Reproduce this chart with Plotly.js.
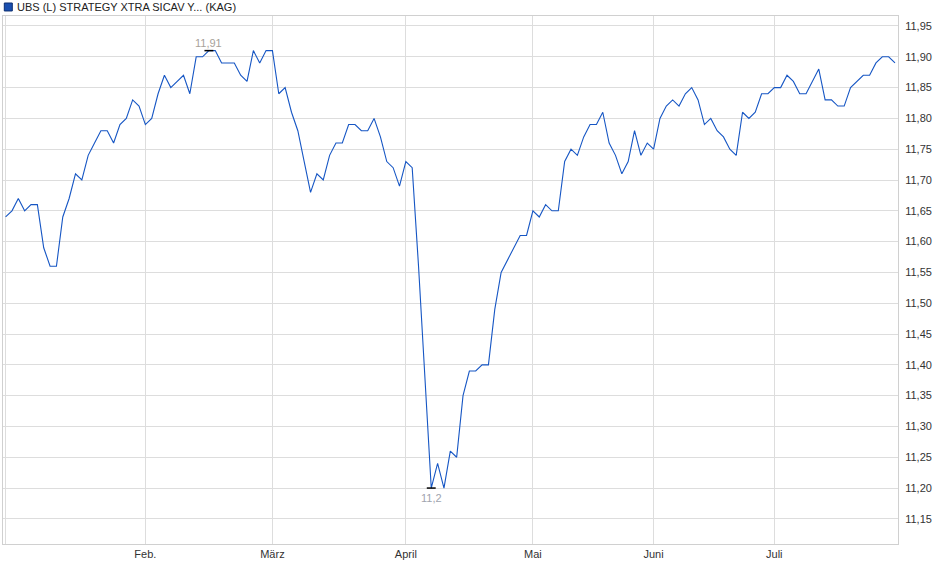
<!DOCTYPE html>
<html>
<head>
<meta charset="utf-8">
<script src="https://cdn.plot.ly/plotly-3.0.1.min.js"></script>
<style>
  html, body { margin: 0; padding: 0; background: #ffffff; }
  #chart { width: 940px; height: 579px; }
</style>
</head>
<body>
<div id="chart"></div>
<script>
// Month labels (January gridline carries no label in the reference)
const monthLabels = ['', 'Feb.', 'März', 'April', 'Mai', 'Juni', 'Juli'];

// Daily prices per month (trading days)
const janValues = [11.64, 11.65, 11.67, 11.65, 11.66, 11.66, 11.59, 11.56, 11.56, 11.64, 11.67,
                   11.71, 11.70, 11.74, 11.76, 11.78, 11.78, 11.76, 11.79, 11.80, 11.83, 11.82];
const febValues = [11.79, 11.80, 11.84, 11.87, 11.85, 11.86, 11.87, 11.84, 11.90, 11.90,
                   11.91, 11.91, 11.89, 11.89, 11.89, 11.87, 11.86, 11.91, 11.89, 11.91];
const marValues = [11.91, 11.84, 11.85, 11.81, 11.78, 11.73, 11.68, 11.71, 11.70, 11.74, 11.76,
                   11.76, 11.79, 11.79, 11.78, 11.78, 11.80, 11.77, 11.73, 11.72, 11.69];
const aprValues = [11.73, 11.72, 11.56, 11.38, 11.20, 11.24, 11.20, 11.26, 11.25, 11.35,
                   11.39, 11.39, 11.40, 11.40, 11.49, 11.55, 11.57, 11.59, 11.61, 11.61];
const mayValues = [11.65, 11.64, 11.66, 11.65, 11.65, 11.73, 11.75, 11.74, 11.77, 11.79,
                   11.79, 11.81, 11.76, 11.74, 11.71, 11.73, 11.78, 11.74, 11.76];
const junValues = [11.75, 11.80, 11.82, 11.83, 11.82, 11.84, 11.85, 11.83, 11.79, 11.80,
                   11.78, 11.77, 11.75, 11.74, 11.81, 11.80, 11.81, 11.84, 11.84];
const julValues = [11.85, 11.85, 11.87, 11.86, 11.84, 11.84, 11.86, 11.88, 11.83, 11.83,
                   11.82, 11.82, 11.85, 11.86, 11.87, 11.87, 11.89, 11.90, 11.90, 11.89];

// Y axis tick values
const yTickValues = [11.15, 11.20, 11.25, 11.30, 11.35, 11.40, 11.45, 11.50, 11.55,
                     11.60, 11.65, 11.70, 11.75, 11.80, 11.85, 11.90, 11.95];

const seriesName = 'UBS (L) STRATEGY XTRA SICAV Y... (KAG)';

// ---- build from the arrays ----
const monthArrays = [janValues, febValues, marValues, aprValues, mayValues, junValues, julValues];
const values = [].concat(...monthArrays);
const xs = values.map((v, i) => i);
const monthStarts = [];
let acc = 0;
monthArrays.forEach(a => { monthStarts.push(acc); acc += a.length; });

const maxVal = Math.max(...values);
const minVal = Math.min(...values);
const maxIdx = values.indexOf(maxVal);
const minIdx = values.indexOf(minVal);
const fmt = v => String(v).replace('.', ',');

const lineColor = '#1656c4';
const font = 'Liberation Sans, Arial, sans-serif';

const trace = {
  x: xs,
  y: values,
  type: 'scatter',
  mode: 'lines',
  line: { color: lineColor, width: 1.1 },
  hoverinfo: 'skip',
  showlegend: false
};

const layout = {
  width: 940,
  height: 579,
  margin: { l: 3, r: 42, t: 16, b: 35, pad: 0 },
  paper_bgcolor: '#ffffff',
  plot_bgcolor: '#ffffff',
  separators: ',.',
  font: { family: font, size: 11, color: '#333333' },
  showlegend: false,
  xaxis: {
    range: [-0.41, values.length - 1 + 0.47],
    tickmode: 'array',
    tickvals: monthStarts,
    ticktext: monthLabels,
    showgrid: true,
    gridcolor: '#dddddd',
    gridwidth: 1,
    zeroline: false,
    showline: true,
    mirror: true,
    linecolor: '#d0d0d0',
    linewidth: 1,
    ticks: '',
    tickfont: { family: font, size: 11, color: '#333333' },
    fixedrange: true
  },
  yaxis: {
    side: 'right',
    range: [11.1092, 11.9662],
    tickmode: 'array',
    tickvals: yTickValues,
    tickformat: '.2f',
    showgrid: true,
    gridcolor: '#dddddd',
    gridwidth: 1,
    zeroline: false,
    showline: true,
    mirror: true,
    linecolor: '#d0d0d0',
    linewidth: 1,
    ticks: '',
    ticklabelstandoff: 4,
    tickfont: { family: font, size: 11, color: '#333333' },
    fixedrange: true
  },
  shapes: [
    // legend square
    { type: 'rect', xref: 'paper', yref: 'paper',
      x0: 0.00145, x1: 0.0104, y0: 1.0095, y1: 1.0246,
      fillcolor: '#1a4fb0', line: { color: '#0d2f70', width: 1 } },
    // max marker
    { type: 'line', xref: 'x', yref: 'y',
      x0: maxIdx - 0.7, x1: maxIdx + 0.7, y0: maxVal, y1: maxVal,
      line: { color: '#000000', width: 1.5 } },
    // min marker
    { type: 'line', xref: 'x', yref: 'y',
      x0: minIdx - 0.7, x1: minIdx + 0.7, y0: minVal, y1: minVal,
      line: { color: '#000000', width: 1.5 } }
  ],
  annotations: [
    { xref: 'paper', yref: 'paper', x: 0.0137, y: 1.0170,
      xanchor: 'left', yanchor: 'middle', showarrow: false,
      text: seriesName, font: { family: font, size: 11, color: '#222222' } },
    { xref: 'x', yref: 'y', x: maxIdx, y: maxVal,
      xanchor: 'center', yanchor: 'bottom', yshift: 0, showarrow: false,
      text: fmt(maxVal), font: { family: font, size: 11, color: '#a8a29a' } },
    { xref: 'x', yref: 'y', x: minIdx, y: minVal,
      xanchor: 'center', yanchor: 'top', yshift: -2, showarrow: false,
      text: fmt(minVal), font: { family: font, size: 11, color: '#a0a4ae' } }
  ]
};

Plotly.newPlot('chart', [trace], layout, { displayModeBar: false, staticPlot: true });
</script>
</body>
</html>
